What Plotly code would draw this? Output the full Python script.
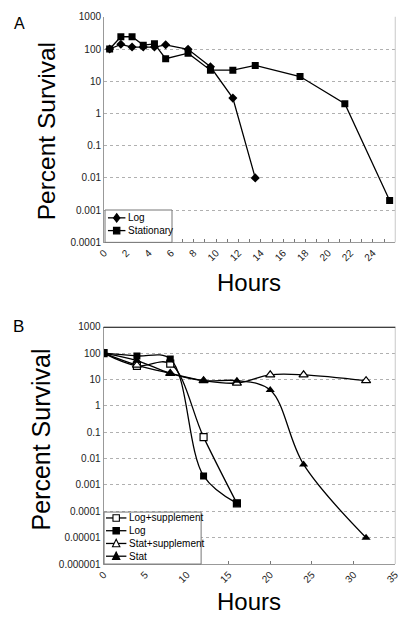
import plotly.graph_objects as go

# ---------------- Panel A data ----------------
a_hours = [0.5, 1.5, 2.5, 3.5, 4.5, 5.5, 7.5, 9.5, 11.5, 13.5, 17.5, 21.5, 25.5]
a_log = [100, 140, 115, 115, 115, 135, 98, 28, 3, 0.01]
a_stationary = [100, 240, 240, 132, 145, 50, 74, 22, 22, 31, 14, 2, 0.002]
a_xticks = [0, 2, 4, 6, 8, 10, 12, 14, 16, 18, 20, 22, 24]
a_yticks = [1000, 100, 10, 1, 0.1, 0.01, 0.001, 0.0001]
a_yticktext = ["1000", "100", "10", "1", "0.1", "0.01", "0.001", "0.0001"]
a_names = ["Log", "Stationary"]

# ---------------- Panel B data ----------------
b_hours_log = [0, 4, 8, 12, 16]
b_log_supp = [100, 33, 40, 0.065, 0.0002]
b_log = [100, 78, 60, 0.0022, 0.0002]
b_hours_stat = [0, 4, 8, 12, 16, 20, 24, 31.5]
b_stat_supp = [100, 35, 17, 9, 7.3, 15, 15, 9]
b_stat = [100, 52, 17, 9, 9, 4, 0.006, 0.00001]
b_xticks = [0, 5, 10, 15, 20, 25, 30, 35]
b_yticks = [1000, 100, 10, 1, 0.1, 0.01, 0.001, 0.0001, 0.00001, 0.000001]
b_yticktext = ["1000", "100", "10", "1", "0.1", "0.01", "0.001", "0.0001", "0.00001", "0.000001"]
b_names = ["Log+supplement", "Log", "Stat+supplement", "Stat"]

W, H = 408, 624
def fx(px):
    return px / W
def fy(py):
    return 1 - py / H

FONT = "Liberation Sans, Arial, sans-serif"
fig = go.Figure()

# Panel A traces
fig.add_trace(go.Scatter(
    x=a_hours[:len(a_log)], y=a_log, name=a_names[0], mode="lines+markers",
    line=dict(color="black", width=1.3),
    marker=dict(symbol="diamond", size=7, color="black"),
    xaxis="x", yaxis="y"))
fig.add_trace(go.Scatter(
    x=a_hours, y=a_stationary, name=a_names[1], mode="lines+markers",
    line=dict(color="black", width=1.3),
    marker=dict(symbol="square", size=7, color="black"),
    xaxis="x", yaxis="y"))

# Panel B traces
fig.add_trace(go.Scatter(
    x=b_hours_log, y=b_log_supp, name=b_names[0], mode="lines+markers",
    line=dict(color="black", width=1.3, shape="spline"),
    marker=dict(symbol="square", size=7, color="white", line=dict(color="black", width=1.2)),
    xaxis="x2", yaxis="y2"))
fig.add_trace(go.Scatter(
    x=b_hours_log, y=b_log, name=b_names[1], mode="lines+markers",
    line=dict(color="black", width=1.3, shape="spline"),
    marker=dict(symbol="square", size=7, color="black"),
    xaxis="x2", yaxis="y2"))
fig.add_trace(go.Scatter(
    x=b_hours_stat, y=b_stat_supp, name=b_names[2], mode="lines+markers",
    line=dict(color="black", width=1.3, shape="spline"),
    marker=dict(symbol="triangle-up", size=8, color="white", line=dict(color="black", width=1.2)),
    xaxis="x2", yaxis="y2"))
fig.add_trace(go.Scatter(
    x=b_hours_stat, y=b_stat, name=b_names[3], mode="lines+markers",
    line=dict(color="black", width=1.3, shape="spline"),
    marker=dict(symbol="triangle-up", size=8, color="black"),
    xaxis="x2", yaxis="y2"))

tickfont = dict(family=FONT, size=10, color="#222")
grid = dict(showgrid=True, gridcolor="#b0b0b0", griddash="dot", gridwidth=1)

fig.update_layout(
    width=W, height=H,
    margin=dict(l=0, r=0, t=0, b=0),
    paper_bgcolor="white", plot_bgcolor="white",
    font=dict(family=FONT, color="black"),
    showlegend=False,
    xaxis=dict(domain=[fx(100), fx(400)], range=[0, 26], tickvals=a_xticks,
               tickangle=-45, tickfont=tickfont, showgrid=False, zeroline=False,
               showline=True, linecolor="#999", ticks="inside", ticklen=3, tickcolor="#777",
               minor=dict(dtick=1, ticks="inside", ticklen=3, tickcolor="#777"),
               anchor="y"),
    yaxis=dict(domain=[fy(241), fy(11)], type="log", range=[-4, 3],
               tickvals=a_yticks, ticktext=a_yticktext, tickfont=tickfont,
               showline=True, linecolor="#999", zeroline=False, ticks="", anchor="x", **grid),
    xaxis2=dict(domain=[fx(99.5), fx(400)], range=[0, 35], tickvals=b_xticks,
                tickangle=-45, tickfont=tickfont, showgrid=False, zeroline=False,
                showline=True, linecolor="#999", ticks="inside", ticklen=3, tickcolor="#777",
                anchor="y2"),
    yaxis2=dict(domain=[fy(569), fy(327)], type="log", range=[-6, 3],
                tickvals=b_yticks, ticktext=b_yticktext, tickfont=tickfont,
                showline=True, linecolor="#999", zeroline=False, ticks="", anchor="x2", **grid),
)

shapes = [
    # right frame lines
    dict(type="line", xref="paper", yref="paper", x0=fx(400), x1=fx(400), y0=fy(241), y1=fy(11),
         line=dict(color="#c8c8c8", width=1)),
    dict(type="line", xref="paper", yref="paper", x0=fx(400), x1=fx(400), y0=fy(569), y1=fy(327),
         line=dict(color="#c8c8c8", width=1)),
    # heavy top line in panel B
    dict(type="line", xref="x2 domain", yref="y2", x0=0, x1=1, y0=1000, y1=1000,
         line=dict(color="black", width=2)),
]
ann = []

def text(s, x, y, size, angle=0, xanchor="center"):
    ann.append(dict(text=s, x=fx(x), y=fy(y),
                    xref="paper", yref="paper", showarrow=False, textangle=angle,
                    xanchor=xanchor, yanchor="middle",
                    font=dict(family=FONT, size=size, color="black")))

# ---------- manual legends (pixel-based helpers) ----------
def legend_box(x0, y0, x1, y1):
    shapes.append(dict(type="rect", xref="paper", yref="paper",
                       x0=fx(x0), x1=fx(x1), y0=fy(y1), y1=fy(y0),
                       fillcolor="white", line=dict(color="#777", width=1), layer="above"))

def marker_path(kind, cx, cy, s):
    if kind == "square":
        pts = [(cx - s, cy - s), (cx + s, cy - s), (cx + s, cy + s), (cx - s, cy + s)]
    elif kind == "diamond":
        pts = [(cx, cy - s - 1), (cx + s, cy), (cx, cy + s + 1), (cx - s, cy)]
    else:  # triangle
        pts = [(cx, cy - s - 1), (cx + s + 0.5, cy + s), (cx - s - 0.5, cy + s)]
    return "M " + " L ".join("%.4f,%.4f" % (fx(px), fy(py)) for px, py in pts) + " Z"

def legend_item(name, kind, filled, x_line0, x_line1, y, xtext):
    shapes.append(dict(type="line", xref="paper", yref="paper",
                       x0=fx(x_line0), x1=fx(x_line1), y0=fy(y), y1=fy(y),
                       line=dict(color="black", width=1.3), layer="above"))
    cx = (x_line0 + x_line1) / 2
    shapes.append(dict(type="path", xref="paper", yref="paper",
                       path=marker_path(kind, cx, y, 3.3),
                       fillcolor="black" if filled else "white",
                       line=dict(color="black", width=1.1), layer="above"))
    text(name, xtext, y, 10, xanchor="left")

legend_box(101, 208, 170, 241)
legend_item(a_names[0], "diamond", True, 104, 122, 216, 123)
legend_item(a_names[1], "square", True, 104, 122, 229, 123)

legend_box(100, 516, 200, 569)
legend_item(b_names[0], "square", False, 102, 123, 522, 124)
legend_item(b_names[1], "square", True, 102, 123, 535, 124)
legend_item(b_names[2], "triangle", False, 102, 123, 548, 124)
legend_item(b_names[3], "triangle", True, 102, 123, 561, 124)

text("A", 13, 18, 16)
text("B", 12, 327, 17)
text("Percent Survival", 41, 128, 24.5, angle=-90)
text("Percent Survival", 34, 442, 25, angle=-90)
text("Hours", 249, 282, 24)
text("Hours", 249, 607, 24)

fig.update_layout(shapes=shapes, annotations=ann)

fig.write_html("out.html", config={"displayModeBar": False},
               post_script="document.body.style.margin='0';document.body.style.padding='0';")
